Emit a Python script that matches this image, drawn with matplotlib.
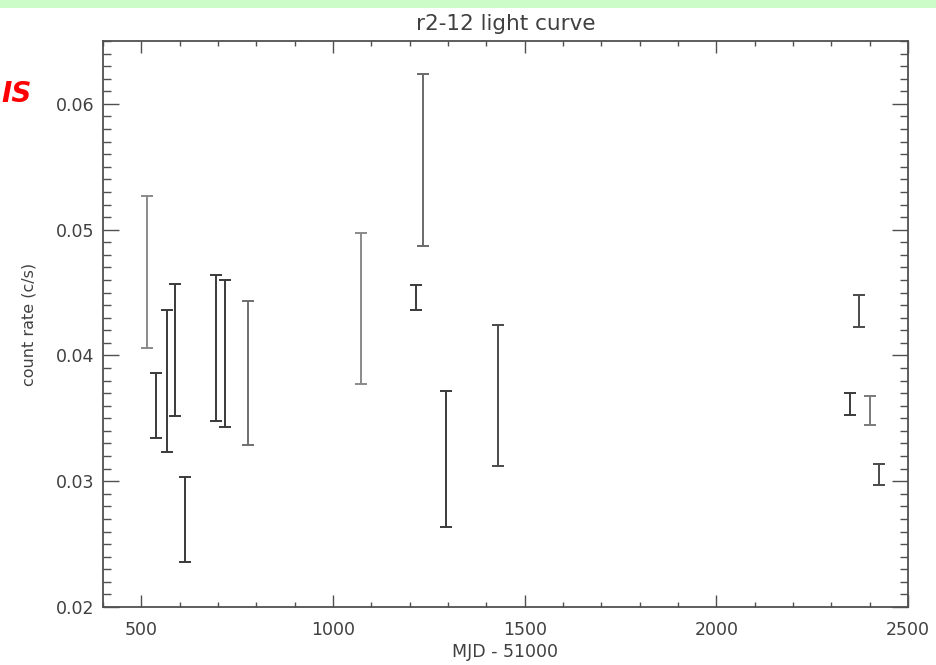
import matplotlib
matplotlib.use("Agg")
import matplotlib.pyplot as plt
from matplotlib.ticker import MultipleLocator, FixedLocator
import numpy as np

# Data (MJD - 51000, lower and upper ends of count-rate error bars)
mjd = [516, 538, 566, 589, 614, 694, 719, 777, 1074, 1217, 1236, 1294, 1430, 2348, 2372, 2402, 2424]
rate_low = [0.0406, 0.0334, 0.0323, 0.0352, 0.0236, 0.0348, 0.0343, 0.0329, 0.0377, 0.0436, 0.0487, 0.0264, 0.0312, 0.0353, 0.0423, 0.0345, 0.0297]
rate_high = [0.0527, 0.0386, 0.0436, 0.0457, 0.0303, 0.0464, 0.0460, 0.0443, 0.0497, 0.0456, 0.0624, 0.0372, 0.0424, 0.0370, 0.0448, 0.0368, 0.0314]

title = "r2-12 light curve"
xlabel = "MJD - 51000"
ylabel = "count rate (c/s)"
xticks = [500, 1000, 1500, 2000, 2500]
yticks = [0.02, 0.03, 0.04, 0.05, 0.06]
ytick_labels = ["0.02", "0.03", "0.04", "0.05", "0.06"]

# styles (not data)
bar_colors = ["#8a8a8a", "#3a3a3a", "#3a3a3a", "#3a3a3a", "#3a3a3a", "#3a3a3a", "#3a3a3a", "#6f6f6f",
              "#8a8a8a", "#3a3a3a", "#6a6a6a", "#3a3a3a", "#4a4a4a", "#3a3a3a", "#4a4a4a", "#7a7a7a", "#4a4a4a"]

fig = plt.figure(figsize=(9.37, 6.65), dpi=100)
fig.patch.set_facecolor("white")

# slide decorations
fig.patches.append(plt.Rectangle((0, 1 - 8 / 665), 1, 8 / 665, transform=fig.transFigure,
                                 facecolor="#ccfcc8", edgecolor="none", zorder=0))
fig.text(0.001, 1 - 94 / 665, "IS", color="#ff0000", fontsize=20, fontweight="bold",
         fontstyle="italic", va="center", ha="left")

ax = fig.add_axes([103 / 937, 1 - 607 / 665, (908 - 103) / 937, (607 - 41) / 665])

txt_color = "#404040"
for i, x in enumerate(mjd):
    lo, hi = rate_low[i], rate_high[i]
    mid = (lo + hi) / 2
    ax.errorbar([x], [mid], yerr=[[mid - lo], [hi - mid]], fmt="none",
                ecolor=bar_colors[i], elinewidth=1.4, capsize=4, capthick=1.4)

ax.set_xlim(400, 2500)
ax.set_ylim(0.02, 0.065)

ax.xaxis.set_major_locator(FixedLocator(xticks))
ax.xaxis.set_minor_locator(MultipleLocator(100))
ax.yaxis.set_major_locator(FixedLocator(yticks))
ax.set_yticklabels(ytick_labels)
ax.yaxis.set_minor_locator(MultipleLocator(0.001))

ax.tick_params(axis="both", which="both", direction="in", top=True, right=True,
               colors="#505050", labelcolor=txt_color, labelsize=12.5)
ax.tick_params(axis="x", which="major", length=8.5, width=1.0, pad=10)
ax.tick_params(axis="x", which="minor", length=3.8, width=1.0)
ax.tick_params(axis="y", which="major", length=11.5, width=1.0, pad=6)
ax.tick_params(axis="y", which="minor", length=5.8, width=1.0)

for s in ax.spines.values():
    s.set_color("#505050")
    s.set_linewidth(1.3)

ax.set_title(title, color=txt_color, fontsize=15.5, pad=8)
ax.set_xlabel(xlabel, color=txt_color, fontsize=12.5, labelpad=3)
ax.set_ylabel(ylabel, color=txt_color, fontsize=11.5, labelpad=14)

fig.savefig("out.png", dpi=100)
